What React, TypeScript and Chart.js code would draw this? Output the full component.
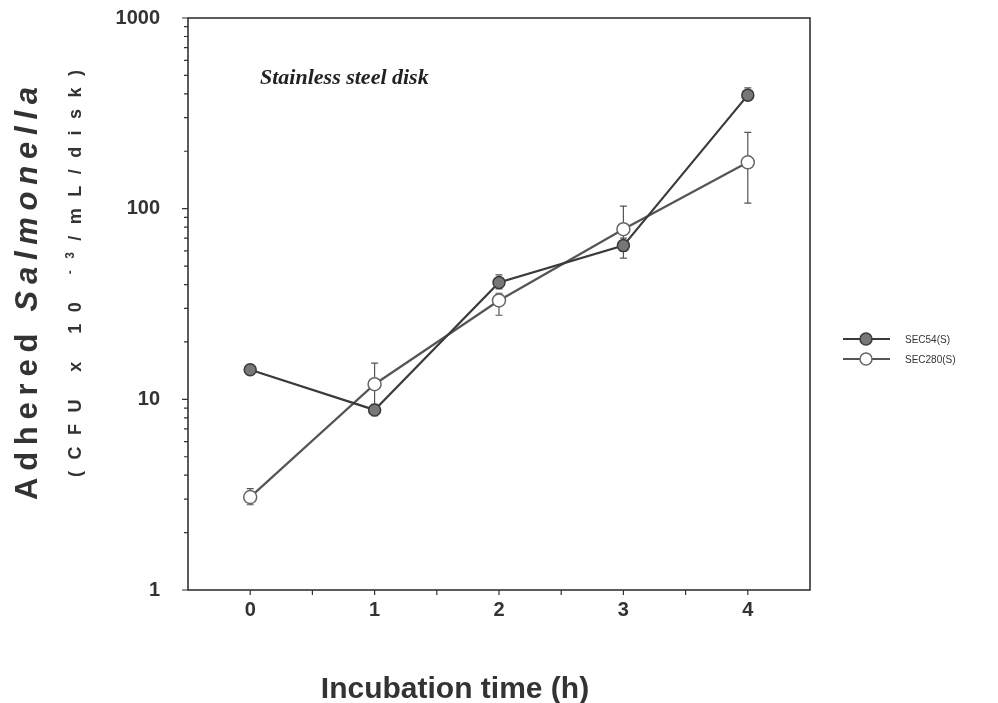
import React, { useEffect, useRef } from "react";
import { Chart, registerables } from "chart.js";

Chart.register(...registerables);

// ---- Data ----
const xValues = [0, 1, 2, 3, 4];
const xTickLabels = ["0", "1", "2", "3", "4"];
const yTickLabels = [1, 10, 100, 1000];

const sec54Label = "SEC54(S)";
const sec54 = [14.3, 8.8, 41, 64, 394];
const sec54Hi = [15.0, 9.4, 45, 70, 430];
const sec54Lo = [13.6, 8.2, 38, 55, 370];

const sec280Label = "SEC280(S)";
const sec280 = [3.07, 12, 33, 78, 175];
const sec280Hi = [3.4, 15.5, 36, 103, 251];
const sec280Lo = [2.8, 9.2, 27.6, 60, 107];

const panelTitle = "Stainless steel disk";
const xTitle = "Incubation time (h)";

const SANS = '"Liberation Sans", Arial, sans-serif';
const SERIF = '"Liberation Serif", "Times New Roman", serif';

const errorSets = [
  { hi: sec54Hi, lo: sec54Lo },
  { hi: sec280Hi, lo: sec280Lo },
];

function drawSpacedVertical(
  ctx: CanvasRenderingContext2D,
  segments: { text: string; font: string; dy: number }[],
  x: number,
  yStart: number,
  length: number
) {
  const chars: { ch: string; font: string; dy: number; w: number }[] = [];
  for (const s of segments) {
    ctx.font = s.font;
    for (const ch of s.text) {
      chars.push({ ch, font: s.font, dy: s.dy, w: ctx.measureText(ch).width });
    }
  }
  const natural = chars.reduce((a, c) => a + c.w, 0);
  const gap = (length - natural) / (chars.length - 1);
  ctx.save();
  ctx.translate(x, yStart);
  ctx.rotate(-Math.PI / 2);
  ctx.textBaseline = "alphabetic";
  ctx.textAlign = "left";
  let cx = 0;
  for (const c of chars) {
    ctx.font = c.font;
    ctx.fillText(c.ch, cx, c.dy);
    cx += c.w + gap;
  }
  ctx.restore();
}

const decorPlugin = {
  id: "decor",
  beforeDatasetsDraw(chart: any) {
    const ctx = chart.ctx as CanvasRenderingContext2D;
    const xs = chart.scales.x;
    const ys = chart.scales.y;
    ctx.save();
    ctx.strokeStyle = "#555";
    ctx.lineWidth = 1.2;
    errorSets.forEach((es) => {
      xValues.forEach((xv, j) => {
        const px = xs.getPixelForValue(xv);
        const yh = ys.getPixelForValue(es.hi[j]);
        const yl = ys.getPixelForValue(es.lo[j]);
        ctx.beginPath();
        ctx.moveTo(px, yh);
        ctx.lineTo(px, yl);
        ctx.moveTo(px - 3.5, yh);
        ctx.lineTo(px + 3.5, yh);
        ctx.moveTo(px - 3.5, yl);
        ctx.lineTo(px + 3.5, yl);
        ctx.stroke();
      });
    });
    ctx.restore();
  },
  afterDraw(chart: any) {
    const ctx = chart.ctx as CanvasRenderingContext2D;
    const { left, right, top, bottom } = chart.chartArea;
    const xs = chart.scales.x;
    const ys = chart.scales.y;
    ctx.save();
    // frame
    ctx.strokeStyle = "#333";
    ctx.lineWidth = 1.6;
    ctx.strokeRect(left, top, right - left, bottom - top);

    // y tick marks (major + minor)
    ctx.lineWidth = 1.2;
    ctx.beginPath();
    for (let d = 1; d <= 1000; d *= 10) {
      for (let k = 1; k <= 9; k++) {
        const v = d * k;
        if (v > 1000) break;
        const py = ys.getPixelForValue(v);
        const len = k === 1 ? 6 : 4;
        ctx.moveTo(left - len, py);
        ctx.lineTo(left, py);
      }
    }
    // x tick marks
    xs.ticks.forEach((t: any) => {
      const px = xs.getPixelForValue(t.value);
      if (px <= left + 1 || px >= right - 1) return;
      ctx.moveTo(px, bottom);
      ctx.lineTo(px, bottom + 5);
    });
    ctx.stroke();

    // panel title
    ctx.fillStyle = "#222";
    ctx.font = `bold italic 22px ${SERIF}`;
    ctx.textAlign = "left";
    ctx.textBaseline = "alphabetic";
    ctx.fillText(panelTitle, 260, 84);

    // x title
    ctx.fillStyle = "#333";
    ctx.font = `bold 30px ${SANS}`;
    ctx.textAlign = "center";
    ctx.fillText(xTitle, 455, 698);

    // y titles
    ctx.fillStyle = "#333";
    drawSpacedVertical(
      ctx,
      [
        { text: "Adhered ", font: `bold 31px ${SANS}`, dy: 0 },
        { text: "Salmonella", font: `italic bold 31px ${SANS}`, dy: 0 },
      ],
      37,
      500,
      413
    );
    drawSpacedVertical(
      ctx,
      [
        { text: "(CFU x 10 ", font: `bold 18px ${SANS}`, dy: 0 },
        { text: "-3", font: `bold 12px ${SANS}`, dy: -7 },
        { text: "/mL/disk)", font: `bold 18px ${SANS}`, dy: 0 },
      ],
      81,
      477,
      407
    );

    // legend
    chart.data.datasets.forEach((ds: any, i: number) => {
      const ly = 339 + i * 20;
      ctx.strokeStyle = ds.borderColor;
      ctx.lineWidth = 2;
      ctx.beginPath();
      ctx.moveTo(843, ly);
      ctx.lineTo(890, ly);
      ctx.stroke();
      ctx.beginPath();
      ctx.arc(866, ly, 6, 0, Math.PI * 2);
      ctx.fillStyle = ds.pointBackgroundColor;
      ctx.fill();
      ctx.strokeStyle = ds.pointBorderColor;
      ctx.lineWidth = 1.5;
      ctx.stroke();
      ctx.fillStyle = "#333";
      ctx.font = `10px ${SANS}`;
      ctx.textAlign = "left";
      ctx.textBaseline = "middle";
      ctx.fillText(ds.label, 905, ly + 1);
    });
    ctx.restore();
  },
};

export default function App() {
  const canvasRef = useRef<HTMLCanvasElement | null>(null);

  useEffect(() => {
    if (!canvasRef.current) return;
    const chart = new Chart(canvasRef.current, {
      type: "line",
      data: {
        datasets: [
          {
            label: sec54Label,
            data: xValues.map((x, i) => ({ x, y: sec54[i] })),
            borderColor: "#3a3a3a",
            borderWidth: 2.2,
            pointRadius: 6,
            pointBackgroundColor: "#777777",
            pointBorderColor: "#3a3a3a",
            pointBorderWidth: 1.5,
            tension: 0,
          },
          {
            label: sec280Label,
            data: xValues.map((x, i) => ({ x, y: sec280[i] })),
            borderColor: "#555555",
            borderWidth: 2.2,
            pointRadius: 6.5,
            pointBackgroundColor: "#ffffff",
            pointBorderColor: "#666666",
            pointBorderWidth: 1.5,
            tension: 0,
          },
        ],
      },
      options: {
        animation: false,
        responsive: false,
        devicePixelRatio: 1,
        layout: { padding: { top: 18, right: 188, left: 0, bottom: 0 } },
        plugins: {
          legend: { display: false },
          tooltip: { enabled: false },
        },
        scales: {
          x: {
            type: "linear",
            min: -0.5,
            max: 4.5,
            grid: { display: false },
            border: { display: false },
            ticks: {
              stepSize: 0.5,
              autoSkip: false,
              maxRotation: 0,
              padding: 0,
              color: "#333",
              font: { family: SANS, size: 20, weight: "bold" },
              callback: (v: any) => {
                const idx = xValues.indexOf(Number(v));
                return idx >= 0 ? xTickLabels[idx] : "";
              },
            },
            afterFit: (s: any) => {
              s.height = 113;
              s.paddingLeft = 0;
              s.paddingRight = 0;
            },
          },
          y: {
            type: "logarithmic",
            min: 1,
            max: 1000,
            grid: { display: false },
            border: { display: false },
            ticks: {
              autoSkip: false,
              padding: 20,
              color: "#333",
              font: { family: SANS, size: 20, weight: "bold" },
              callback: (v: any) =>
                yTickLabels.includes(Number(v)) ? String(v) : "",
            },
            afterFit: (s: any) => {
              s.width = 188;
              s.paddingTop = 0;
              s.paddingBottom = 0;
            },
          },
        },
      },
      plugins: [decorPlugin],
    });
    return () => chart.destroy();
  }, []);

  return (
    <div style={{ position: "fixed", left: 0, top: 0, width: 998, height: 703, background: "#fff" }}>
      <canvas ref={canvasRef} width={998} height={703} style={{ width: 998, height: 703 }} />
    </div>
  );
}
